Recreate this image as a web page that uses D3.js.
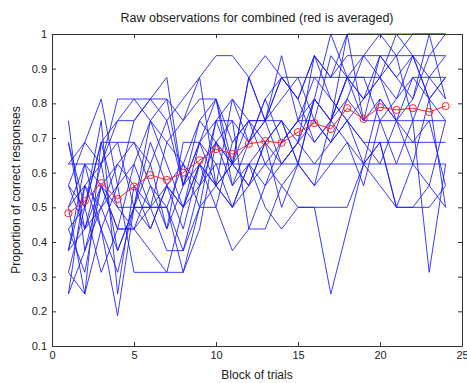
<!DOCTYPE html>
<html>
<head>
<meta charset="utf-8">
<script src="https://cdn.jsdelivr.net/npm/d3@7"></script>
<style>
  body {margin: 0; background: #fff;}
  text {font-family: 'Liberation Sans', Arial, sans-serif; fill: #222;}
</style>
</head>
<body>
<div id="chart"></div>
<script>
var title = 'Raw observations for combined (red is averaged)'
var xLabel = 'Block of trials'
var yLabel = 'Proportion of correct responses'

var blocks = d3.range(1, 25)
var xTicks = [0, 5, 10, 15, 20, 25]
var yTicks = [0.1, 0.2, 0.3, 0.4, 0.5, 0.6, 0.7, 0.8, 0.9, 1]

// correct responses out of 16 per block, one row per observer
var trialsPerBlock = 16
var raw = [
  [10,10,10,11,11, 9, 8,10, 9,12,10, 9,11,12,10,13,12,14,12,13,12,14,13,12],
  [12, 6, 9, 7,10,12,10, 8,11, 9,10,10,10,10,10,10,10,10,10,10,10,10,10,10],
  [ 9,11,13, 9,12,13,14, 9,12,11,10,14,12,15,12,13,16,14,15,16,15,16,16,16],
  [ 5, 8,11,12,13,13,12,13,14,15,15,14,15,14,13,15,14,15,15,15,15,15,15,15],
  [ 4, 9, 7, 5, 8,10, 7, 9,11,12,12,11,13,14,14,14,14,14,14,14,13,14,14,14],
  [ 8, 4, 7, 3, 8, 7, 9, 8,10, 8,11,12,10,11,12,12,11,13,12,12,12,12,12,12],
  [11, 8,11,11, 8, 8, 8, 6, 9,10,10,11,12,14,13,15,14,16,16,16,16,16,16,16],
  [ 6, 9,10,13,13,12,13,12,14, 9,13,12,12,14,13,11,12,16,12,15,14,13,16,13],
  [ 7, 5, 9, 8, 8,12,11,12,13,13, 9,11,12,12,11,15,13,12,11,11,11,11,11,11],
  [ 8, 9, 8, 6, 8, 8, 8, 5, 7,11, 9,10, 8, 7, 8, 8, 8, 8,10, 9, 8, 8, 8, 9],
  [ 5, 4,11, 8, 7, 6, 5, 5, 8, 8, 6, 7, 7, 9, 8, 8, 4, 7,10,11, 8,10, 9,12],
  [ 9, 8,12, 4, 9, 8, 9, 7,10, 9, 8,10,11, 8,10, 9,12,11, 9,12,10,12, 5,10],
  [ 6,10, 7, 9, 5, 5, 5, 8, 9,11,12, 7, 9,10,11,10,11,12,10,13,12,10,13, 8],
  [11, 7, 9,10,11,10,12, 9,10,11,10,12,11,12,10,13,12,14,14,12,13,15,14,13],
  [ 4, 6, 8,10, 9, 7, 9,10, 8,12,13,11,13,11,12,14,13,12,13,14,15,12,14,15],
  [ 7, 8, 5, 7, 7, 9, 7,11,11,13,10,14,12,13,14,12,15,14,13,15,14,15,13,14],
  [ 9, 7,10, 6, 8,11, 9, 8,10, 9,10, 9,11,10,11,12,11,12,11,10,12,11,12, 9],
  [ 8,10, 9, 7, 7, 8, 6, 6, 8, 9, 8, 9,10, 9,10, 9,10,11,10,11, 8, 8, 9, 8],
  [10,11,10,12,12,13,13, 9,11,10, 8,10, 9,11,12,11,12,13,15,14,12,13,15,16],
  [ 6, 7, 8, 9,10, 8,11,10,12,13,11,12,12,10,11,13,12,14,13,14,16,15,13,14]
]

var averaged = [0.483, 0.518, 0.570, 0.524, 0.560, 0.593, 0.579, 0.600, 0.636, 0.668, 0.654, 0.683,
  0.691, 0.686, 0.717, 0.743, 0.726, 0.786, 0.755, 0.789, 0.781, 0.786, 0.775, 0.792]


var width = 467, height = 383
var margin = {top: 34, left: 52, right: 5, bottom: 37}

var svg = d3.select('#chart').append('svg')
  .attr('width', width)
  .attr('height', height)

var x = d3.scaleLinear().domain([0, 25]).range([margin.left, width - margin.right])
var y = d3.scaleLinear().domain([0.1, 1]).range([height - margin.bottom, margin.top])

var line = d3.line()
  .x((d, i) => x(blocks[i]))
  .y(d => y(d))

svg.append('g')
  .selectAll('path')
  .data(raw)
  .join('path')
  .attr('d', d => line(d.map(v => v/trialsPerBlock)))
  .attr('fill', 'none')
  .attr('stroke', '#1a1aff')
  .attr('stroke-opacity', 0.85)
  .attr('stroke-width', 1)

svg.append('path')
  .attr('d', line(averaged))
  .attr('fill', 'none')
  .attr('stroke', '#ff2020')
  .attr('stroke-width', 1)

svg.append('g')
  .selectAll('circle')
  .data(averaged)
  .join('circle')
  .attr('cx', (d, i) => x(blocks[i]))
  .attr('cy', d => y(d))
  .attr('r', 3.6)
  .attr('fill', 'none')
  .attr('stroke', '#ff2020')
  .attr('stroke-width', 1)

var tick = 4
var axisColor = '#333'

svg.append('g')
  .attr('transform', `translate(0,${y(0.1)})`)
  .call(d3.axisBottom(x).tickValues(xTicks).tickSizeInner(-tick).tickSizeOuter(0).tickPadding(5))
svg.append('g')
  .attr('transform', `translate(0,${y(1)})`)
  .call(d3.axisTop(x).tickValues(xTicks).tickSizeInner(-tick).tickSizeOuter(0).tickFormat(''))
svg.append('g')
  .attr('transform', `translate(${x(0)},0)`)
  .call(d3.axisLeft(y).tickValues(yTicks).tickSizeInner(-tick).tickSizeOuter(0).tickPadding(5).tickFormat(d3.format('~g')))
svg.append('g')
  .attr('transform', `translate(${x(25)},0)`)
  .call(d3.axisRight(y).tickValues(yTicks).tickSizeInner(-tick).tickSizeOuter(0).tickFormat(''))

svg.selectAll('.domain, .tick line').attr('stroke', axisColor)
svg.selectAll('.tick text')
  .style('font-family', "'Liberation Sans', Arial, sans-serif")
  .style('font-size', '11px')
  .attr('fill', '#222')

svg.append('text')
  .text(title)
  .attr('x', (x(0) + x(25))/2)
  .attr('y', 22)
  .attr('text-anchor', 'middle')
  .style('font-size', '12.5px')

svg.append('text')
  .text(xLabel)
  .attr('x', (x(0) + x(25))/2)
  .attr('y', 379)
  .attr('text-anchor', 'middle')
  .style('font-size', '12px')

svg.append('text')
  .text(yLabel)
  .attr('transform', `translate(20,${(y(0.1) + y(1))/2}) rotate(-90)`)
  .attr('text-anchor', 'middle')
  .style('font-size', '12px')
</script>
</body>
</html>
